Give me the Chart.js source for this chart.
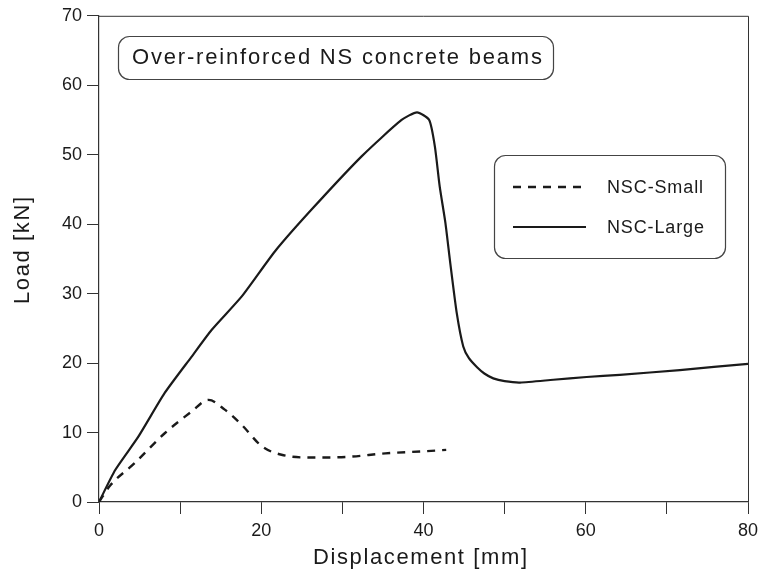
<!DOCTYPE html>
<html>
<head>
<meta charset="utf-8">
<script src="https://cdn.jsdelivr.net/npm/chart.js@4/dist/chart.umd.min.js"></script>
<style>
  html, body { margin: 0; padding: 0; background: #fff; }
  #wrap { width: 765px; height: 576px; }
</style>
</head>
<body>
<div id="wrap"><canvas id="loadChart" width="765" height="576"></canvas></div>
<script>
// Displacement [mm] / Load [kN]
const smallDisp = [0, 1.4, 4.4, 8.1, 11.4, 13.5, 15.5, 17.6, 20.1, 22.5, 26.2, 30.7, 35.3, 40, 42.8];
const smallLoad = [0, 2.4, 5.6, 9.9, 13.0, 14.7, 13.3, 11.1, 8.0, 6.8, 6.4, 6.5, 7.0, 7.3, 7.5];

const largeDisp = [0, 2.0, 4.85, 8.1, 11.4, 13.9, 17.6, 21.7, 26.2, 32.4, 37.3, 39.2, 40.7, 41.4, 42.0, 42.7, 43.3, 44.1, 44.9, 45.6, 46.6, 47.5, 48.6, 50.0, 51.9, 56, 60.1, 64.2, 71.6, 80];
const largeLoad = [0, 4.6, 9.4, 15.7, 20.9, 24.8, 29.6, 36.1, 42.1, 49.8, 55.0, 56.1, 55.0, 51.2, 45.4, 40.2, 34.4, 27.2, 22.4, 20.7, 19.4, 18.5, 17.8, 17.4, 17.2, 17.6, 18.0, 18.3, 19.0, 19.9];

const seriesNames = ['NSC-Small', 'NSC-Large'];
const boxTitle = 'Over-reinforced NS concrete beams';
const xTitle = 'Displacement [mm]';
const yTitle = 'Load [kN]';

const ink = '#1a1a1a';
const fontFamily = '"Liberation Sans", Arial, Helvetica, sans-serif';

function toPoints(xs, ys) {
    return xs.map((x, i) => ({ x, y: ys[i] }));
}

function roundRect(ctx, x, y, w, h, r) {
    ctx.beginPath();
    ctx.moveTo(x + r, y);
    ctx.lineTo(x + w - r, y);
    ctx.arcTo(x + w, y, x + w, y + r, r);
    ctx.lineTo(x + w, y + h - r);
    ctx.arcTo(x + w, y + h, x + w - r, y + h, r);
    ctx.lineTo(x + r, y + h);
    ctx.arcTo(x, y + h, x, y + h - r, r);
    ctx.lineTo(x, y + r);
    ctx.arcTo(x, y, x + r, y, r);
    ctx.closePath();
}

// text stretched with letter spacing to a given width
function spacedText(ctx, text, x, y, width, size) {
    ctx.font = `${size}px ${fontFamily}`;
    ctx.letterSpacing = '0px';
    const plain = ctx.measureText(text).width;
    const gap = Math.max(0, (width - plain) / (text.length - 1));
    ctx.letterSpacing = `${gap}px`;
    ctx.fillText(text, x, y);
    ctx.letterSpacing = '0px';
}

const decorations = {
    id: 'decorations',
    afterDraw(chart) {
        const { ctx, chartArea } = chart;
        ctx.save();

        // frame top + right
        ctx.strokeStyle = '#333';
        ctx.lineWidth = 1;
        ctx.beginPath();
        ctx.moveTo(chartArea.left, chartArea.top + 0.5);
        ctx.lineTo(chartArea.right + 0.5, chartArea.top + 0.5);
        ctx.lineTo(chartArea.right + 0.5, chartArea.bottom);
        ctx.stroke();

        ctx.fillStyle = ink;
        ctx.textBaseline = 'middle';
        ctx.textAlign = 'left';

        // title box
        ctx.strokeStyle = '#444';
        ctx.lineWidth = 1.2;
        roundRect(ctx, 118.5, 36.5, 435, 43, 11);
        ctx.stroke();
        spacedText(ctx, boxTitle, 132, 58, 410, 22);

        // legend box
        roundRect(ctx, 494.5, 155.5, 231, 103, 11);
        ctx.stroke();
        ctx.strokeStyle = ink;
        ctx.lineWidth = 2.4;
        ctx.setLineDash([8, 7]);
        ctx.beginPath();
        ctx.moveTo(513, 187);
        ctx.lineTo(582, 187);
        ctx.stroke();
        ctx.setLineDash([]);
        ctx.lineWidth = 2;
        ctx.beginPath();
        ctx.moveTo(513, 227);
        ctx.lineTo(586, 227);
        ctx.stroke();
        spacedText(ctx, seriesNames[0], 607, 188, 96, 18);
        spacedText(ctx, seriesNames[1], 607, 228, 97, 18);

        // axis titles
        spacedText(ctx, xTitle, 313, 558, 214, 22);
        ctx.translate(23, 304);
        ctx.rotate(-Math.PI / 2);
        spacedText(ctx, yTitle, 0, 0, 107, 22);

        ctx.restore();
    },
};

new Chart(document.getElementById('loadChart'), {
    type: 'line',
    data: {
        datasets: [{
            label: seriesNames[0],
            data: toPoints(smallDisp, smallLoad),
            borderColor: ink,
            borderWidth: 2.4,
            borderDash: [8, 7],
            pointRadius: 0,
            cubicInterpolationMode: 'monotone',
            fill: false,
        }, {
            label: seriesNames[1],
            data: toPoints(largeDisp, largeLoad),
            borderColor: ink,
            borderWidth: 2.2,
            pointRadius: 0,
            tension: 0.2,
            borderJoinStyle: 'round',
            fill: false,
        }],
    },
    options: {
        responsive: false,
        animation: false,
        layout: {
            padding: { left: 0, top: 14, right: 17, bottom: 0 },
        },
        plugins: {
            legend: { display: false },
            tooltip: { enabled: false },
        },
        scales: {
            x: {
                type: 'linear',
                min: 0,
                max: 80,
                afterFit(scale) {
                    scale.height = 74;
                },
                ticks: {
                    stepSize: 10,
                    color: ink,
                    padding: 6,
                    font: { family: fontFamily, size: 18 },
                    callback(value) {
                        return value % 20 === 0 ? value : '';
                    },
                },
                grid: {
                    drawOnChartArea: false,
                    color: '#333',
                    tickLength: 12,
                },
                border: { color: '#333', width: 1.2 },
            },
            y: {
                min: 0,
                max: 70,
                afterFit(scale) {
                    scale.width = 99;
                },
                ticks: {
                    stepSize: 10,
                    color: ink,
                    padding: 5,
                    font: { family: fontFamily, size: 18 },
                },
                grid: {
                    drawOnChartArea: false,
                    color: '#333',
                    tickLength: 12,
                },
                border: { color: '#333', width: 1.2 },
            },
        },
    },
    plugins: [decorations],
});
</script>
</body>
</html>
